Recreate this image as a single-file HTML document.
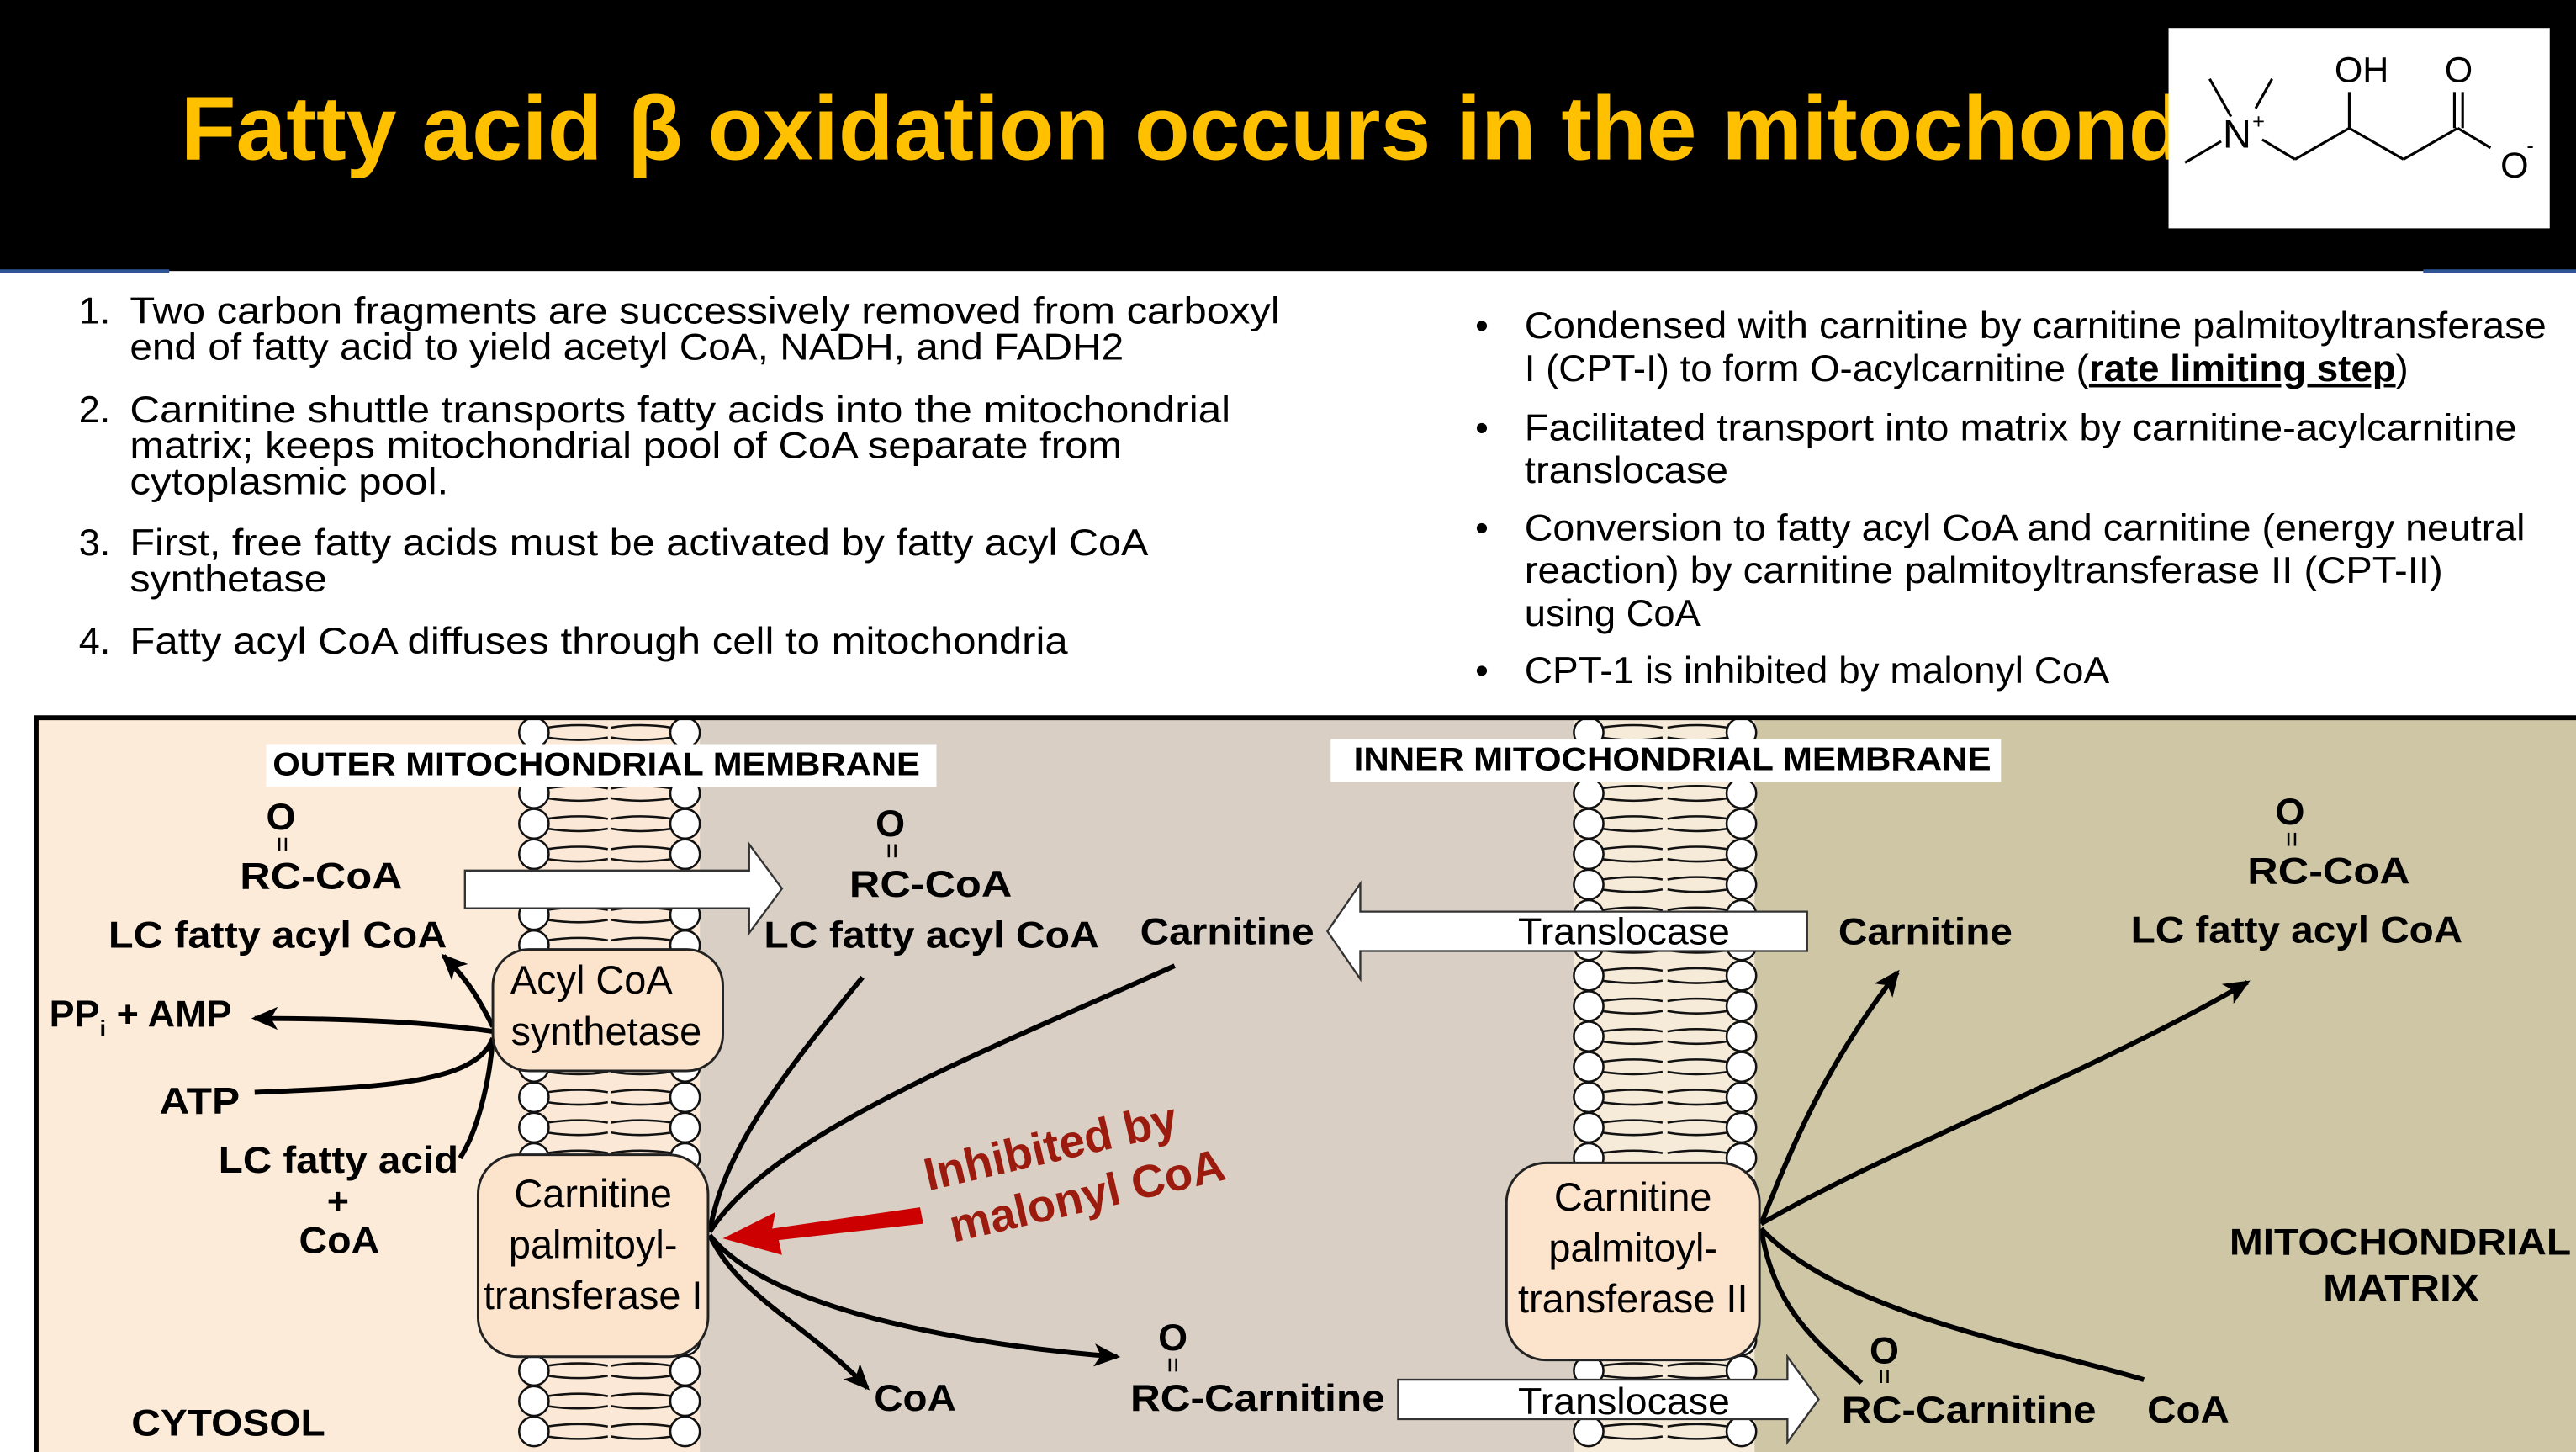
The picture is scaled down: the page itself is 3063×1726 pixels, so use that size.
<!DOCTYPE html>
<html><head><meta charset="utf-8"><style>
html,body{margin:0;padding:0;background:#fff;}
svg{display:block;}
text{font-family:"Liberation Sans",sans-serif;}
.b{font-weight:bold;}
</style></head><body>
<svg id="s" width="3063" height="1726" viewBox="0 0 1568 884" preserveAspectRatio="none" xmlns="http://www.w3.org/2000/svg">
<defs>
<marker id="ah2" markerWidth="18" markerHeight="16" refX="14" refY="8" orient="auto" markerUnits="userSpaceOnUse"><path d="M0,1 L16,8 L0,15 L4,8 Z" fill="#000"/></marker>
</defs>
<rect x="0" y="0" width="1568" height="165" fill="#000"/>
<line x1="0" y1="165" x2="103" y2="165" stroke="#2f5597" stroke-width="2"/>
<line x1="1475" y1="165" x2="1568" y2="165" stroke="#2f5597" stroke-width="2"/>
<text x="110" y="97" class="b" font-size="55" fill="#FFC000">Fatty acid β oxidation occurs in the mitochondria</text>
<g>
<rect x="1320" y="17" width="232" height="122" fill="#fff"/>
<g stroke="#000" stroke-width="1.6" fill="none">
<line x1="1345" y1="48" x2="1358" y2="71"/><line x1="1383" y1="48" x2="1373" y2="66"/>
<line x1="1330" y1="99" x2="1352" y2="86"/><line x1="1377" y1="85" x2="1397" y2="97"/>
<line x1="1397" y1="97" x2="1430" y2="78"/><line x1="1430" y1="78" x2="1430" y2="56"/>
<line x1="1430" y1="78" x2="1463" y2="97"/><line x1="1463" y1="97" x2="1496" y2="78"/>
<line x1="1494" y1="78" x2="1494" y2="56"/><line x1="1499" y1="78" x2="1499" y2="56"/>
<line x1="1496" y1="78" x2="1516" y2="90"/>
</g>
<text x="1353" y="90" font-size="24">N</text><text x="1371" y="78" font-size="13">+</text>
<text x="1421" y="50" font-size="22">OH</text><text x="1488" y="50" font-size="22">O</text>
<text x="1522" y="108" font-size="22">O</text><text x="1538" y="93" font-size="13">-</text>
</g>
<g font-size="23" fill="#000" lengthAdjust="spacingAndGlyphs">
<text x="48" y="197">1.</text><text x="79" y="197" textLength="700" lengthAdjust="spacingAndGlyphs">Two carbon fragments are successively removed from carboxyl</text>
<text x="79" y="219" textLength="605" lengthAdjust="spacingAndGlyphs">end of fatty acid to yield acetyl CoA, NADH, and FADH2</text>
<text x="48" y="257">2.</text><text x="79" y="257" textLength="670" lengthAdjust="spacingAndGlyphs">Carnitine shuttle transports fatty acids into the mitochondrial</text>
<text x="79" y="279" textLength="604" lengthAdjust="spacingAndGlyphs">matrix; keeps mitochondrial pool of CoA separate from</text>
<text x="79" y="301" textLength="194" lengthAdjust="spacingAndGlyphs">cytoplasmic pool.</text>
<text x="48" y="338">3.</text><text x="79" y="338" textLength="620" lengthAdjust="spacingAndGlyphs">First, free fatty acids must be activated by fatty acyl CoA</text>
<text x="79" y="360" textLength="120" lengthAdjust="spacingAndGlyphs">synthetase</text>
<text x="48" y="398">4.</text><text x="79" y="398" textLength="571" lengthAdjust="spacingAndGlyphs">Fatty acyl CoA diffuses through cell to mitochondria</text>
</g>
<g font-size="23" fill="#000">
<text x="898" y="206">•</text><text x="928" y="206" textLength="622" lengthAdjust="spacingAndGlyphs">Condensed with carnitine by carnitine palmitoyltransferase</text>
<text x="928" y="232" textLength="538" lengthAdjust="spacingAndGlyphs">I (CPT-I) to form O-acylcarnitine (<tspan class="b" text-decoration="underline">rate limiting step</tspan>)</text>
<text x="898" y="268">•</text><text x="928" y="268" textLength="604" lengthAdjust="spacingAndGlyphs">Facilitated transport into matrix by carnitine-acylcarnitine</text>
<text x="928" y="294" textLength="124" lengthAdjust="spacingAndGlyphs">translocase</text>
<text x="898" y="329">•</text><text x="928" y="329" textLength="609" lengthAdjust="spacingAndGlyphs">Conversion to fatty acyl CoA and carnitine (energy neutral</text>
<text x="928" y="355" textLength="559" lengthAdjust="spacingAndGlyphs">reaction) by carnitine palmitoyltransferase II  (CPT-II)</text>
<text x="928" y="381" textLength="107" lengthAdjust="spacingAndGlyphs">using CoA</text>
<text x="898" y="416">•</text><text x="928" y="416" textLength="356" lengthAdjust="spacingAndGlyphs">CPT-1 is inhibited by malonyl CoA</text>
</g>
<g>
<rect x="22" y="437" width="300" height="447" fill="#FCEBD9"/>
<rect x="316" y="437" width="110" height="447" fill="#FBE8D6"/>
<rect x="426" y="437" width="536" height="447" fill="#D9CFC4"/>
<rect x="958" y="437" width="110" height="447" fill="#F6EAD8"/>
<rect x="1068" y="437" width="500" height="447" fill="#CFC6A6"/>
<g id="lipids" stroke="#111" stroke-width="1.3" fill="#fff"></g>
<path d="M22,884 L22,437 L1568,437" stroke="#000" stroke-width="3" fill="none"/>
<rect x="162" y="453" width="408" height="26" fill="#fff"/>
<text x="166" y="472" class="b" font-size="20" textLength="394" lengthAdjust="spacingAndGlyphs">OUTER MITOCHONDRIAL MEMBRANE</text>
<rect x="810" y="450" width="408" height="26" fill="#fff"/>
<text x="824" y="469" class="b" font-size="20" textLength="388" lengthAdjust="spacingAndGlyphs">INNER MITOCHONDRIAL MEMBRANE</text>
<g stroke="#000" stroke-width="1.3">
<line x1="170" y1="510" x2="170" y2="518"/><line x1="174" y1="510" x2="174" y2="518"/>
<line x1="541" y1="514" x2="541" y2="522"/><line x1="545" y1="514" x2="545" y2="522"/>
<line x1="1393" y1="507" x2="1393" y2="515"/><line x1="1397" y1="507" x2="1397" y2="515"/>
<line x1="712" y1="827" x2="712" y2="835"/><line x1="716" y1="827" x2="716" y2="835"/>
<line x1="1145" y1="834" x2="1145" y2="842"/><line x1="1149" y1="834" x2="1149" y2="842"/>
</g>
<g class="b" font-size="23" fill="#000">
<text x="162" y="505">O</text><text x="146" y="541" textLength="99" lengthAdjust="spacingAndGlyphs">RC-CoA</text>
<text x="66" y="577" textLength="206" lengthAdjust="spacingAndGlyphs">LC fatty acyl CoA</text>
<text x="30" y="625">PP<tspan font-size="14" dy="6">i</tspan><tspan dy="-6"> + AMP</tspan></text>
<text x="97" y="678" textLength="49" lengthAdjust="spacingAndGlyphs">ATP</text>
<text x="133" y="714" textLength="146" lengthAdjust="spacingAndGlyphs">LC fatty acid</text>
<text x="199" y="739">+</text>
<text x="182" y="763" textLength="49" lengthAdjust="spacingAndGlyphs">CoA</text>
<text x="533" y="509">O</text><text x="517" y="546" textLength="99" lengthAdjust="spacingAndGlyphs">RC-CoA</text>
<text x="465" y="577" textLength="204" lengthAdjust="spacingAndGlyphs">LC fatty acyl CoA</text>
<text x="694" y="575" textLength="106" lengthAdjust="spacingAndGlyphs">Carnitine</text>
<text x="1119" y="575" textLength="106" lengthAdjust="spacingAndGlyphs">Carnitine</text>
<text x="1385" y="502">O</text><text x="1368" y="538" textLength="99" lengthAdjust="spacingAndGlyphs">RC-CoA</text>
<text x="1297" y="574" textLength="202" lengthAdjust="spacingAndGlyphs">LC fatty acyl CoA</text>
<text x="532" y="859" textLength="50" lengthAdjust="spacingAndGlyphs">CoA</text>
<text x="705" y="822">O</text><text x="688" y="859" textLength="155" lengthAdjust="spacingAndGlyphs">RC-Carnitine</text>
<text x="1138" y="830">O</text><text x="1121" y="866" textLength="155" lengthAdjust="spacingAndGlyphs">RC-Carnitine</text>
<text x="1307" y="866" textLength="50" lengthAdjust="spacingAndGlyphs">CoA</text>
<text x="80" y="874" textLength="118" lengthAdjust="spacingAndGlyphs">CYTOSOL</text>
<text x="1357" y="764" textLength="208" lengthAdjust="spacingAndGlyphs">MITOCHONDRIAL</text><text x="1414" y="792" textLength="95" lengthAdjust="spacingAndGlyphs">MATRIX</text>
</g>
<text transform="translate(565,725) rotate(-13)" class="b" font-size="28" fill="#9B1B0E"><tspan x="0" y="0">Inhibited by</tspan><tspan x="8" y="34">malonyl CoA</tspan></text>
<path d="M560,735 L470,748 L472,738 L440,754 L476,764 L474,755 L562,745 Z" fill="#CC0000"/>
<g fill="#fff" stroke="#333" stroke-width="1.2">
<path d="M283,530 L456,530 L456,514 L476,541 L456,568 L456,553 L283,553 Z"/>
<path d="M1100,555 L828,555 L828,538 L808,567 L828,596 L828,579 L1100,579 Z"/>
<path d="M851,840 L1088,840 L1088,826 L1107,852 L1088,878 L1088,864 L851,864 Z"/>
</g>
<text x="924" y="575" font-size="23" textLength="129" lengthAdjust="spacingAndGlyphs">Translocase</text>
<text x="924" y="861" font-size="23" textLength="129" lengthAdjust="spacingAndGlyphs">Translocase</text>
<g fill="none" stroke="#000" stroke-width="3">
<path d="M300,625 C290,605 283,595 270,582" marker-end="url(#ah2)"/>
<path d="M300,628 C260,622 210,620 155,620" marker-end="url(#ah2)"/>
<path d="M155,665 C230,662 290,660 300,632"/>
<path d="M300,632 C298,660 290,690 280,705"/>
<path d="M525,595 C480,650 440,700 432,750"/>
<path d="M715,588 C600,640 470,690 432,750"/>
<path d="M432,752 C450,790 490,805 528,845" marker-end="url(#ah2)"/>
<path d="M432,752 C470,800 600,820 680,826" marker-end="url(#ah2)"/>
<path d="M1072,745 C1090,700 1110,650 1155,592" marker-end="url(#ah2)"/>
<path d="M1072,745 C1150,700 1280,650 1368,598" marker-end="url(#ah2)"/>
<path d="M1072,748 C1080,800 1110,820 1133,842"/>
<path d="M1072,748 C1120,800 1240,820 1305,840"/>
</g>
<g stroke="#222" stroke-width="1.5" fill="#FCE3CC">
<rect x="300" y="578" width="140" height="74" rx="22"/>
<rect x="291" y="703" width="140" height="123" rx="24"/>
<rect x="917" y="708" width="154" height="120" rx="24"/>
</g>
<g font-size="24" fill="#000" text-anchor="middle">
<text x="360" y="605">Acyl CoA</text><text x="369" y="636">synthetase</text>
<text x="361" y="735">Carnitine</text><text x="361" y="766">palmitoyl-</text><text x="361" y="797">transferase I</text>
<text x="994" y="737">Carnitine</text><text x="994" y="768">palmitoyl-</text><text x="994" y="799">transferase II</text>
</g>
</g>
</svg>
<script>
var g=document.getElementById('lipids');
var cols=[[325,1],[417,-1],[967,1],[1060,-1]];
var ys=[];for(var y=446;y<890;y+=18.5)ys.push(y);
cols.forEach(function(c){ys.forEach(function(y){
 var x=c[0],d=c[1];
 var p=document.createElementNS('http://www.w3.org/2000/svg','path');
 
 
 p.setAttribute('d','M'+(x+d*8)+','+(y-3)+' q'+(d*20)+',-3 '+(d*37)+',0 M'+(x+d*8)+','+(y+3)+' q'+(d*20)+',3 '+(d*37)+',0');
 p.setAttribute('fill','none');
 g.appendChild(p);
 var ci=document.createElementNS('http://www.w3.org/2000/svg','circle');
 
 
 ci.setAttribute('cx',x);ci.setAttribute('cy',y);ci.setAttribute('r',9);
 g.appendChild(ci);
});});
</script>
</body></html>
